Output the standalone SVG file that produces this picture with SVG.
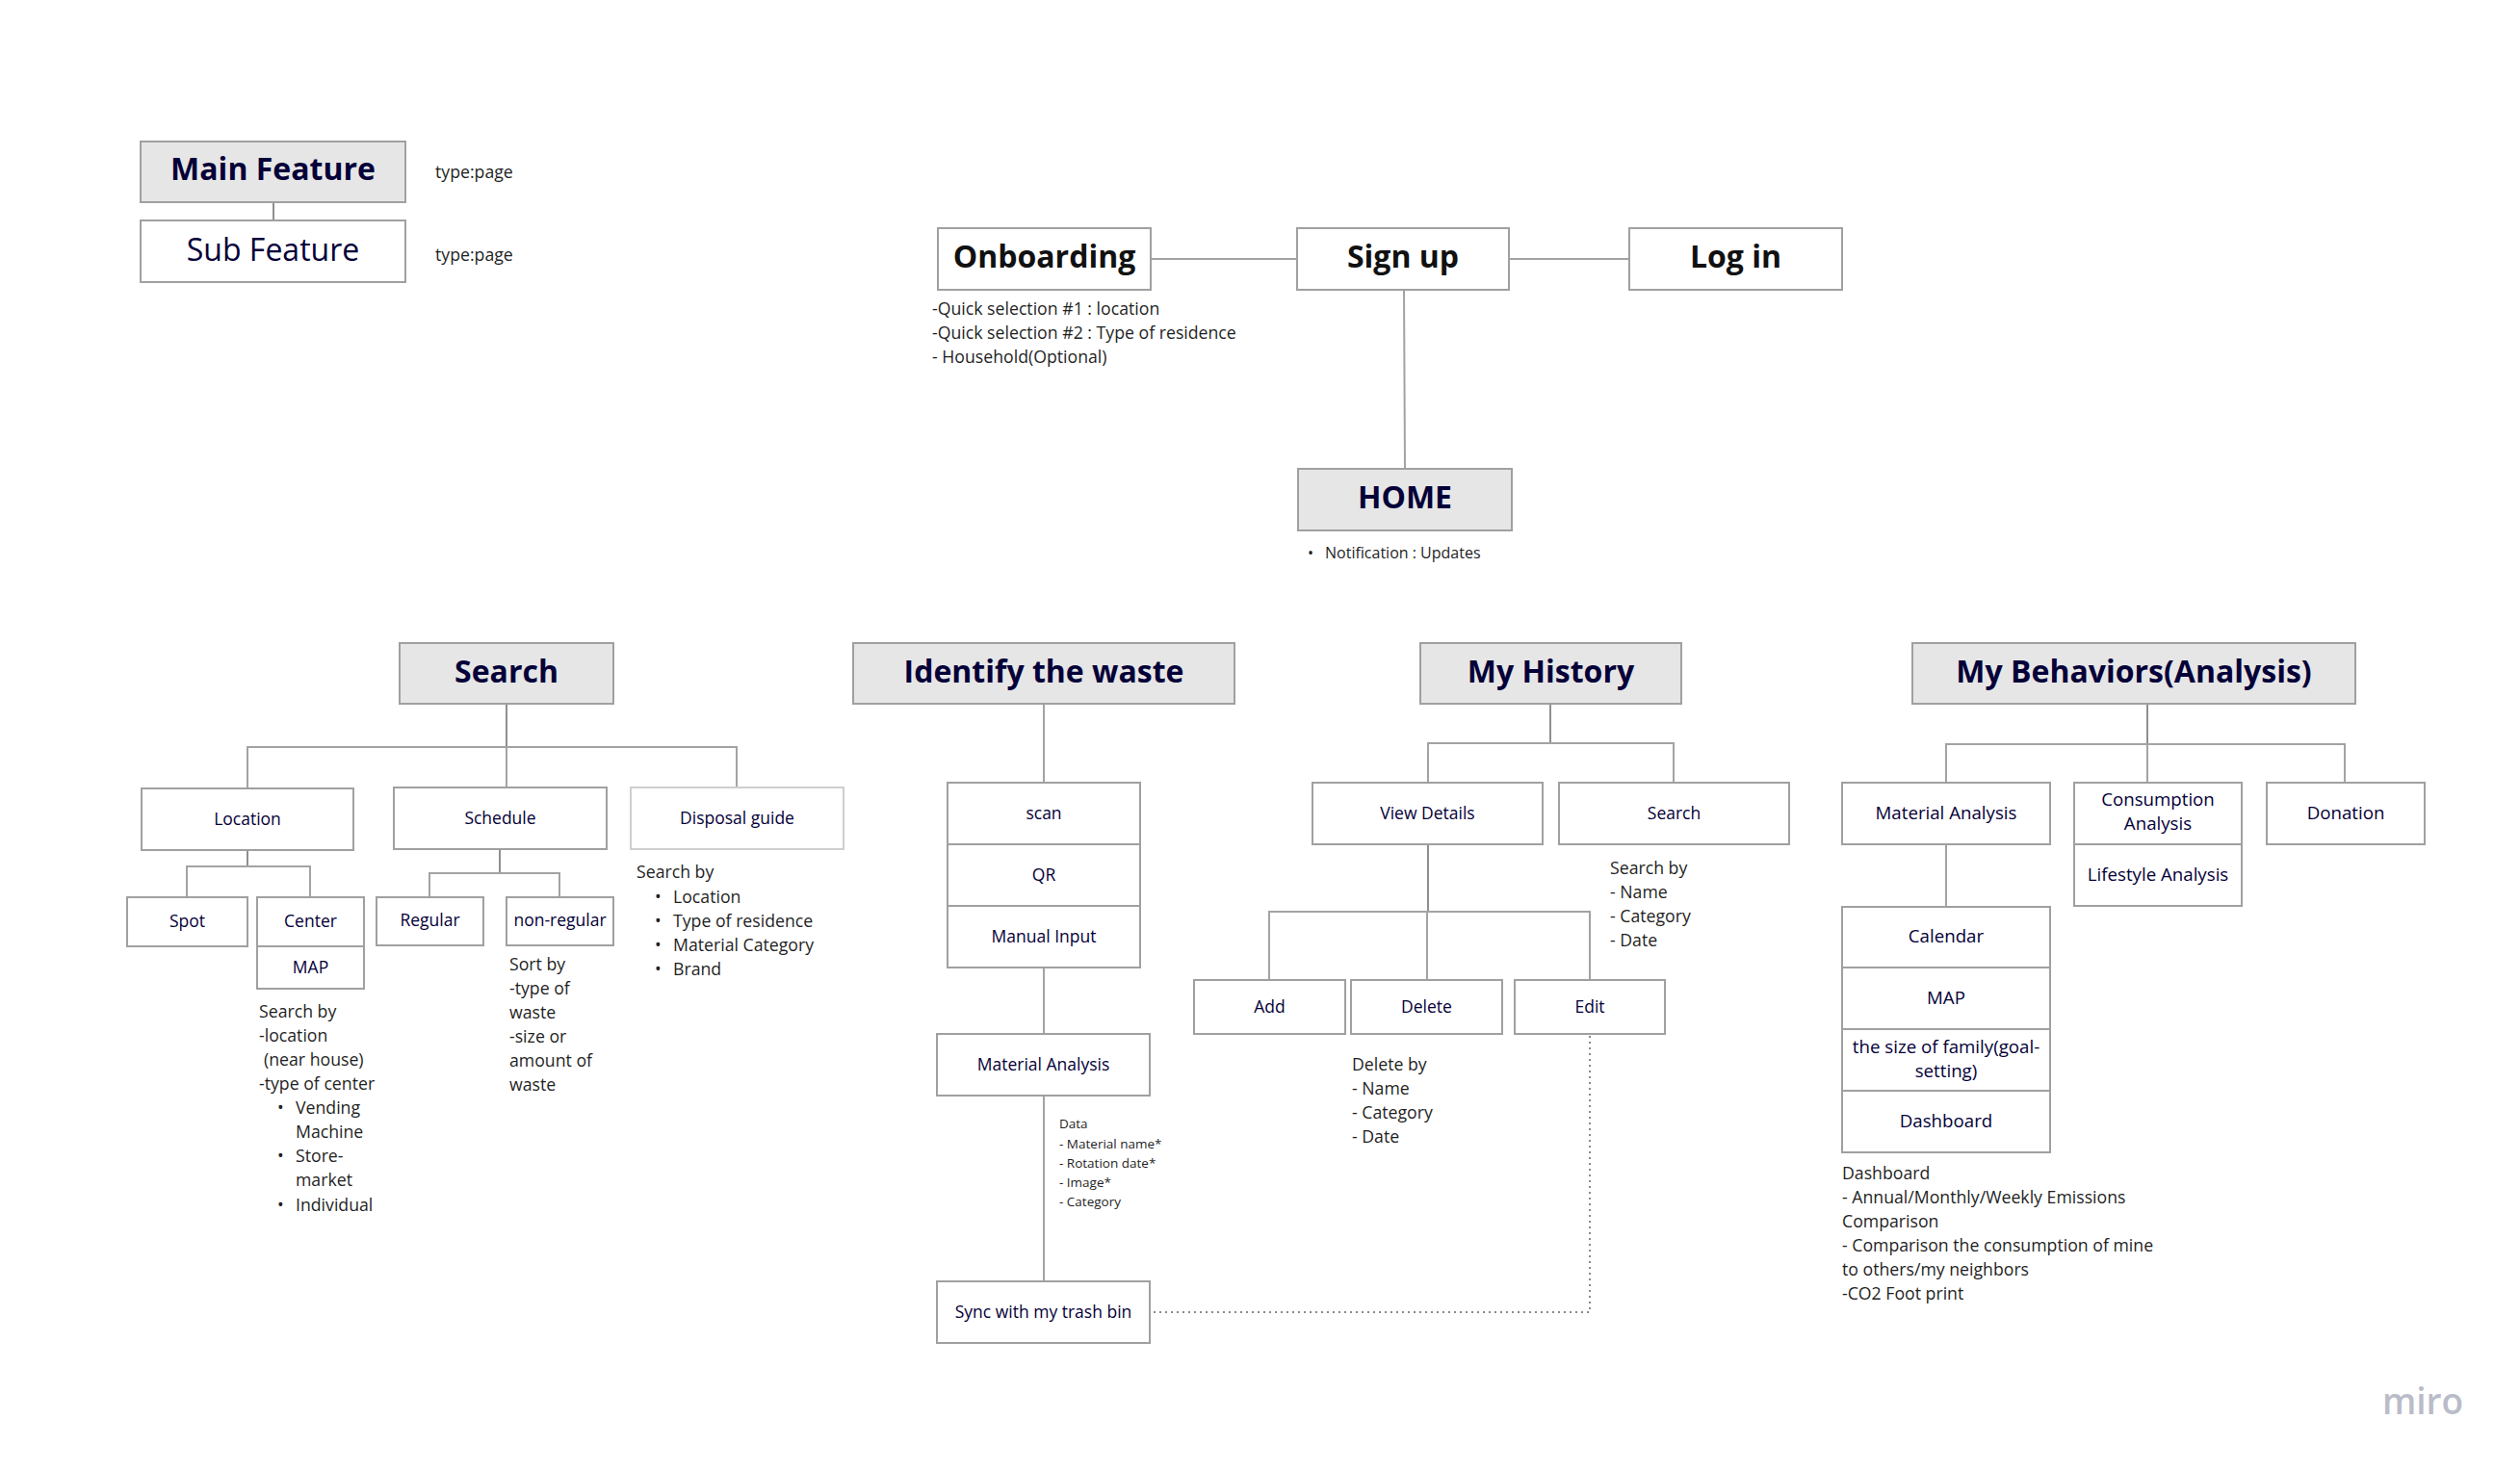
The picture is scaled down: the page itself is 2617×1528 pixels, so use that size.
<svg xmlns="http://www.w3.org/2000/svg" width="2617" height="1528" viewBox="0 0 2617 1528">
<style>
  .bg{fill:#ffffff}
  .box{fill:#ffffff;stroke:#a0a0a0;stroke-width:2}
  .boxl{fill:#ffffff;stroke:#cfcfcf;stroke-width:2}
  .head{fill:#e6e6e6;stroke:#a0a0a0;stroke-width:2}
  .ln{fill:none;stroke:#a3a3a3;stroke-width:2}
  .lnd{fill:none;stroke:#8f8f8f;stroke-width:2}
  .dot{fill:none;stroke:#8a8a8a;stroke-width:2;stroke-dasharray:2 4}
  text{font-family:"Open Sans","Noto Sans","Liberation Sans",sans-serif}
  .h{font-size:32px;font-weight:700;fill:#050038;text-anchor:middle}
  .hb{font-size:32px;font-weight:700;fill:#111111;text-anchor:middle}
  .sub{font-size:32px;fill:#050038;text-anchor:middle}
  .lbl{font-size:17.5px;fill:#050038;text-anchor:middle}
  .lbl2{font-size:18.7px;fill:#050038;text-anchor:middle}
  .note{font-size:17.7px;fill:#1f1f1f}
  .small{font-size:13.5px;fill:#1f1f1f}
  .miro{font-size:37px;fill:#b9bcc9;font-weight:600}
</style>
<rect class="bg" x="0" y="0" width="2617" height="1528"/>

<g id="connectors">
  <path class="lnd" d="M284 210V229"/>
  <path class="ln" d="M1195 269H1347"/>
  <path class="ln" d="M1567 269H1692"/>
  <path class="ln" d="M1458 301L1459 487"/>
  <path class="lnd" d="M526 731V776"/>
  <path class="ln" d="M257 819V776H765V818"/>
  <path class="ln" d="M526 776V818"/>
  <path class="lnd" d="M257 883V900"/>
  <path class="ln" d="M194 932V900H322V932"/>
  <path class="lnd" d="M519 882V907"/>
  <path class="ln" d="M446 932V907H581V932"/>
  <path class="ln" d="M1084 731V813"/>
  <path class="ln" d="M1084 1005V1074"/>
  <path class="ln" d="M1084 1138V1331"/>
  <path class="dot" d="M1651 1076V1363H1196"/>
  <path class="lnd" d="M1610 731V772"/>
  <path class="ln" d="M1483 813V772H1738V813"/>
  <path class="lnd" d="M1483 877V947"/>
  <path class="ln" d="M1318 1018V947H1651V1018"/>
  <path class="ln" d="M1482 947V1018"/>
  <path class="lnd" d="M2230 731V773"/>
  <path class="ln" d="M2021 813V773H2435V813"/>
  <path class="ln" d="M2230 773V813"/>
  <path class="ln" d="M2021 877V942"/>
</g>

<g id="legend-main">
  <rect class="head" x="146" y="147" width="275" height="63"/>
  <text class="h" x="283.5" y="187">Main Feature</text>
  <text class="note" x="452" y="185">type:page</text>
</g>
<g id="legend-sub">
  <rect class="box" x="146" y="229" width="275" height="64"/>
  <text class="sub" x="283.5" y="271">Sub Feature</text>
  <text class="note" x="452" y="271">type:page</text>
</g>

<g id="onboarding">
  <rect class="box" x="974" y="237" width="221" height="64"/>
  <text class="hb" x="1084.5" y="278">Onboarding</text>
  <text class="note" x="968" y="327">-Quick selection #1 : location</text>
  <text class="note" x="968" y="352">-Quick selection #2 : Type of residence</text>
  <text class="note" x="968" y="377">- Household(Optional)</text>
</g>
<g id="signup">
  <rect class="box" x="1347" y="237" width="220" height="64"/>
  <text class="hb" x="1457" y="278">Sign up</text>
</g>
<g id="login">
  <rect class="box" x="1692" y="237" width="221" height="64"/>
  <text class="hb" x="1802.5" y="278">Log in</text>
</g>

<g id="home">
  <rect class="head" x="1348" y="487" width="222" height="64"/>
  <text class="h" x="1459" y="528">HOME</text>
  <text class="note" x="1358" y="580" style="font-size:16px">•</text>
  <text class="note" x="1376" y="580" style="font-size:16px">Notification : Updates</text>
</g>

<g id="search">
  <rect class="head" x="415" y="668" width="222" height="63"/>
  <text class="h" x="526" y="709">Search</text>
</g>
<g id="location">
  <rect class="box" x="147" y="819" width="220" height="64"/>
  <text class="lbl" x="257" y="857">Location</text>
</g>
<g id="schedule">
  <rect class="box" x="409" y="818" width="221" height="64"/>
  <text class="lbl" x="519.5" y="856">Schedule</text>
</g>
<g id="disposal">
  <rect class="boxl" x="655" y="818" width="221" height="64"/>
  <text class="lbl" x="765.5" y="856">Disposal guide</text>
  <text class="note" x="661" y="912">Search by</text>
  <text class="note" x="680" y="938">•</text>
  <text class="note" x="699" y="938">Location</text>
  <text class="note" x="680" y="963">•</text>
  <text class="note" x="699" y="963">Type of residence</text>
  <text class="note" x="680" y="988">•</text>
  <text class="note" x="699" y="988">Material Category</text>
  <text class="note" x="680" y="1013">•</text>
  <text class="note" x="699" y="1013">Brand</text>
</g>
<g id="spot">
  <rect class="box" x="132" y="932" width="125" height="51"/>
  <text class="lbl" x="194.5" y="963">Spot</text>
</g>
<g id="center">
  <rect class="box" x="267" y="932" width="111" height="51"/>
  <text class="lbl" x="322.5" y="963">Center</text>
  <rect class="box" x="267" y="983" width="111" height="44"/>
  <text class="lbl" x="322.5" y="1011">MAP</text>
  <text class="note" x="269" y="1057">Search by</text>
  <text class="note" x="269" y="1082">-location</text>
  <text class="note" x="274" y="1107">(near house)</text>
  <text class="note" x="269" y="1132">-type of center</text>
  <text class="note" x="288" y="1157">•</text>
  <text class="note" x="307" y="1157">Vending</text>
  <text class="note" x="307" y="1182">Machine</text>
  <text class="note" x="288" y="1207">•</text>
  <text class="note" x="307" y="1207">Store-</text>
  <text class="note" x="307" y="1232">market</text>
  <text class="note" x="288" y="1258">•</text>
  <text class="note" x="307" y="1258">Individual</text>
</g>
<g id="regular">
  <rect class="box" x="391" y="932" width="111" height="50"/>
  <text class="lbl" x="446.5" y="962">Regular</text>
</g>
<g id="nonregular">
  <rect class="box" x="526" y="932" width="111" height="50"/>
  <text class="lbl" x="581.5" y="962">non-regular</text>
  <text class="note" x="529" y="1008">Sort by</text>
  <text class="note" x="529" y="1033">-type of</text>
  <text class="note" x="529" y="1058">waste</text>
  <text class="note" x="529" y="1083">-size or</text>
  <text class="note" x="529" y="1108">amount of</text>
  <text class="note" x="529" y="1133">waste</text>
</g>

<g id="identify">
  <rect class="head" x="886" y="668" width="396" height="63"/>
  <text class="h" x="1084" y="709">Identify the waste</text>
</g>
<g id="scan">
  <rect class="box" x="984" y="813" width="200" height="64"/>
  <text class="lbl" x="1084" y="851">scan</text>
</g>
<g id="qr">
  <rect class="box" x="984" y="877" width="200" height="64"/>
  <text class="lbl" x="1084" y="915">QR</text>
</g>
<g id="manual">
  <rect class="box" x="984" y="941" width="200" height="64"/>
  <text class="lbl" x="1084" y="979">Manual Input</text>
</g>
<g id="material-analysis-id">
  <rect class="box" x="973" y="1074" width="221" height="64"/>
  <text class="lbl" x="1083.5" y="1112">Material Analysis</text>
  <text class="small" x="1100" y="1172">Data</text>
  <text class="small" x="1100" y="1193">- Material name*</text>
  <text class="small" x="1100" y="1213">- Rotation date*</text>
  <text class="small" x="1100" y="1233">- Image*</text>
  <text class="small" x="1100" y="1253">- Category</text>
</g>
<g id="sync">
  <rect class="box" x="973" y="1331" width="221" height="64"/>
  <text class="lbl" x="1083.5" y="1369">Sync with my trash bin</text>
</g>

<g id="history">
  <rect class="head" x="1475" y="668" width="271" height="63"/>
  <text class="h" x="1610.5" y="709">My History</text>
</g>
<g id="viewdetails">
  <rect class="box" x="1363" y="813" width="239" height="64"/>
  <text class="lbl" x="1482.5" y="851">View Details</text>
</g>
<g id="history-search">
  <rect class="box" x="1619" y="813" width="239" height="64"/>
  <text class="lbl" x="1738.5" y="851">Search</text>
  <text class="note" x="1672" y="908">Search by</text>
  <text class="note" x="1672" y="933">- Name</text>
  <text class="note" x="1672" y="958">- Category</text>
  <text class="note" x="1672" y="983">- Date</text>
</g>
<g id="add">
  <rect class="box" x="1240" y="1018" width="157" height="56"/>
  <text class="lbl" x="1318.5" y="1052">Add</text>
</g>
<g id="delete">
  <rect class="box" x="1403" y="1018" width="157" height="56"/>
  <text class="lbl" x="1481.5" y="1052">Delete</text>
  <text class="note" x="1404" y="1112">Delete by</text>
  <text class="note" x="1404" y="1137">- Name</text>
  <text class="note" x="1404" y="1162">- Category</text>
  <text class="note" x="1404" y="1187">- Date</text>
</g>
<g id="edit">
  <rect class="box" x="1573" y="1018" width="156" height="56"/>
  <text class="lbl" x="1651" y="1052">Edit</text>
</g>

<g id="behaviors">
  <rect class="head" x="1986" y="668" width="460" height="63"/>
  <text class="h" x="2216" y="709">My Behaviors(Analysis)</text>
</g>
<g id="material-analysis-bh">
  <rect class="box" x="1913" y="813" width="216" height="64"/>
  <text class="lbl2" x="2021" y="851">Material Analysis</text>
</g>
<g id="consumption">
  <rect class="box" x="2154" y="813" width="174" height="64"/>
  <text class="lbl2" x="2241" y="837">Consumption</text>
  <text class="lbl2" x="2241" y="862">Analysis</text>
</g>
<g id="lifestyle">
  <rect class="box" x="2154" y="877" width="174" height="64"/>
  <text class="lbl2" x="2241" y="915">Lifestyle Analysis</text>
</g>
<g id="donation">
  <rect class="box" x="2354" y="813" width="164" height="64"/>
  <text class="lbl2" x="2436" y="851">Donation</text>
</g>
<g id="calendar">
  <rect class="box" x="1913" y="942" width="216" height="63"/>
  <text class="lbl2" x="2021" y="979">Calendar</text>
</g>
<g id="map-bh">
  <rect class="box" x="1913" y="1005" width="216" height="64"/>
  <text class="lbl2" x="2021" y="1043">MAP</text>
</g>
<g id="family">
  <rect class="box" x="1913" y="1069" width="216" height="64"/>
  <text class="lbl2" x="2021" y="1094">the size of family(goal-</text>
  <text class="lbl2" x="2021" y="1119">setting)</text>
</g>
<g id="dashboard">
  <rect class="box" x="1913" y="1133" width="216" height="64"/>
  <text class="lbl2" x="2021" y="1171">Dashboard</text>
  <text class="note" x="1913" y="1225">Dashboard</text>
  <text class="note" x="1913" y="1250">- Annual/Monthly/Weekly Emissions</text>
  <text class="note" x="1913" y="1275">Comparison</text>
  <text class="note" x="1913" y="1300">- Comparison the consumption of mine</text>
  <text class="note" x="1913" y="1325">to others/my neighbors</text>
  <text class="note" x="1913" y="1350">-CO2 Foot print</text>
</g>

<text class="miro" x="2474" y="1469">miro</text>
</svg>
